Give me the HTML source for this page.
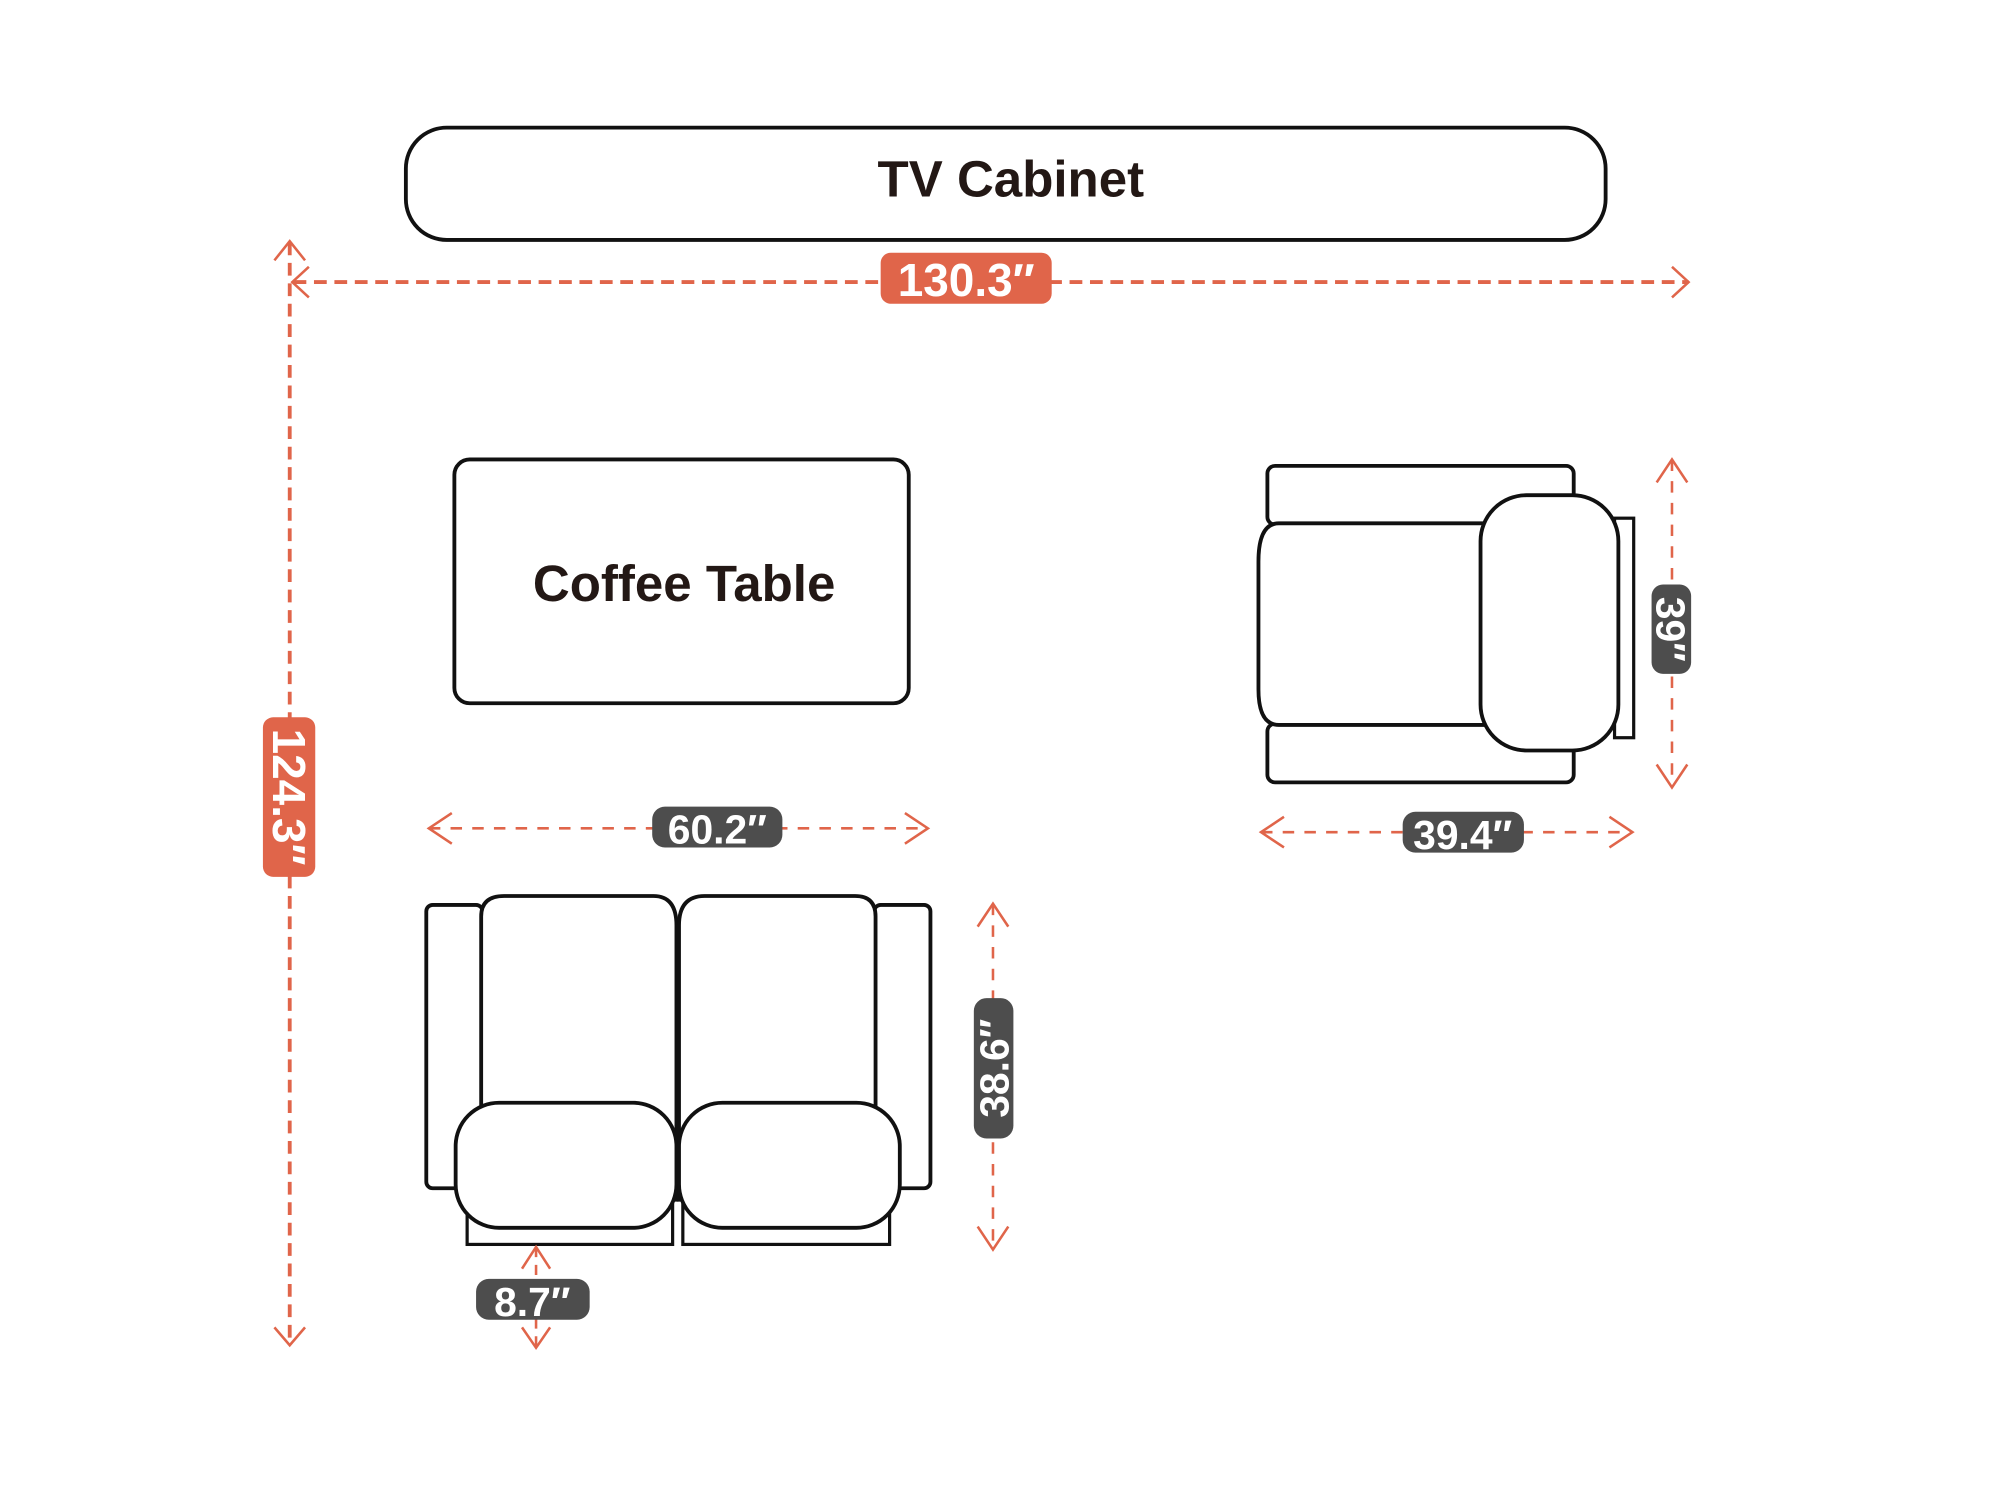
<!DOCTYPE html>
<html><head><meta charset="utf-8"><style>
html,body{margin:0;padding:0;background:#fff;}
svg{display:block;}
text{font-family:"Liberation Sans",Arial,sans-serif;font-weight:bold;}
</style></head><body>
<svg width="2000" height="1500" viewBox="0 0 1567 1175.25" preserveAspectRatio="none" xmlns="http://www.w3.org/2000/svg">
<rect width="1567" height="1176" fill="#fff"/>
<g fill="#fff" stroke="#111" stroke-width="3">
  <rect x="318" y="100" width="940" height="88" rx="32"/>
  <rect x="356" y="360" width="356" height="191" rx="12"/>
  <rect x="1265" y="406" width="15" height="172" stroke-width="2.5"/>
  <rect x="993" y="365" width="240" height="46" rx="6"/>
  <rect x="993" y="567" width="240" height="46" rx="6"/>
  <path d="M1165 410 L1002 410 Q986 410 986 440 L986 540 Q986 568 1002 568 L1165 568 Z"/>
  <rect x="1160" y="388" width="108" height="200" rx="36"/>
  <rect x="366" y="940" width="161" height="35" stroke-width="2.5"/>
  <rect x="535" y="940" width="162" height="35" stroke-width="2.5"/>
  <rect x="334" y="709" width="44" height="222" rx="5"/>
  <rect x="685" y="709" width="44" height="222" rx="5"/>
  <path d="M377 940 L377 718 Q377 702 395 702 L512 702 Q530 702 530 725 L530 940 Z"/>
  <path d="M532 940 L532 725 Q532 702 552 702 L670 702 Q686 702 686 718 L686 940 Z"/>
  <rect x="357" y="864" width="173" height="98" rx="34"/>
  <rect x="532" y="864" width="173" height="98" rx="34"/>
</g>
<text x="792" y="154" font-size="40" text-anchor="middle" fill="#231815">TV Cabinet</text>
<text x="536" y="471" font-size="40" text-anchor="middle" fill="#231815">Coffee Table</text>

<g stroke="#e0654a" fill="none">
  <line x1="230" y1="221" x2="1323" y2="221" stroke-width="3" stroke-dasharray="10 6"/>
  <polyline points="242,209 229,221 242,233" stroke-width="2"/>
  <polyline points="1310,209 1323,221 1310,233" stroke-width="2"/>
  <line x1="227" y1="190" x2="227" y2="1053" stroke-width="3" stroke-dasharray="10 6"/>
  <polyline points="215,204 227,189 239,204" stroke-width="2"/>
  <polyline points="215,1040 227,1054 239,1040" stroke-width="2"/>
  <line x1="336" y1="649" x2="727" y2="649" stroke-width="2" stroke-dasharray="9 8"/>
  <polyline points="354,637 336,649 354,661" stroke-width="2"/>
  <polyline points="709,637 727,649 709,661" stroke-width="2"/>
  <line x1="988" y1="652" x2="1279" y2="652" stroke-width="2" stroke-dasharray="9 8"/>
  <polyline points="1006,640 988,652 1006,664" stroke-width="2"/>
  <polyline points="1261,640 1279,652 1261,664" stroke-width="2"/>
  <line x1="1310" y1="360" x2="1310" y2="617" stroke-width="2" stroke-dasharray="9 8"/>
  <polyline points="1298,378 1310,360 1322,378" stroke-width="2"/>
  <polyline points="1298,599 1310,617 1322,599" stroke-width="2"/>
  <line x1="778" y1="708" x2="778" y2="979" stroke-width="2" stroke-dasharray="9 8"/>
  <polyline points="766,726 778,708 790,726" stroke-width="2"/>
  <polyline points="766,961 778,979 790,961" stroke-width="2"/>
  <line x1="420" y1="977" x2="420" y2="1056" stroke-width="2" stroke-dasharray="8 6"/>
  <polyline points="409,994 420,977 431,994" stroke-width="2"/>
  <polyline points="409,1040 420,1056 431,1040" stroke-width="2"/>
</g>

<rect x="690" y="198" width="134" height="40" rx="8" fill="#e0654a"/>
<text x="757" y="232" font-size="36" text-anchor="middle" fill="#fff">130.3″</text>
<rect x="206" y="562" width="41" height="125" rx="8" fill="#e0654a"/>
<text transform="translate(214,624.5) rotate(90)" font-size="36" text-anchor="middle" fill="#fff">124.3″</text>

<rect x="511" y="632" width="102" height="32" rx="10" fill="#4d4d4d"/>
<text x="562" y="661" font-size="32" text-anchor="middle" fill="#fff">60.2″</text>
<rect x="1099" y="636" width="95" height="32" rx="10" fill="#4d4d4d"/>
<text x="1146" y="665" font-size="32" text-anchor="middle" fill="#fff">39.4″</text>
<rect x="1294" y="458" width="31" height="70" rx="9" fill="#4d4d4d"/>
<text transform="translate(1298,493) rotate(90)" font-size="32" text-anchor="middle" fill="#fff">39″</text>
<rect x="763" y="782" width="31" height="110" rx="10" fill="#4d4d4d"/>
<text transform="translate(790,837) rotate(-90)" font-size="32" text-anchor="middle" fill="#fff">38.6″</text>
<rect x="373" y="1002" width="89" height="32" rx="10" fill="#4d4d4d"/>
<text x="417" y="1031" font-size="32" text-anchor="middle" fill="#fff">8.7″</text>
</svg>
</body></html>
